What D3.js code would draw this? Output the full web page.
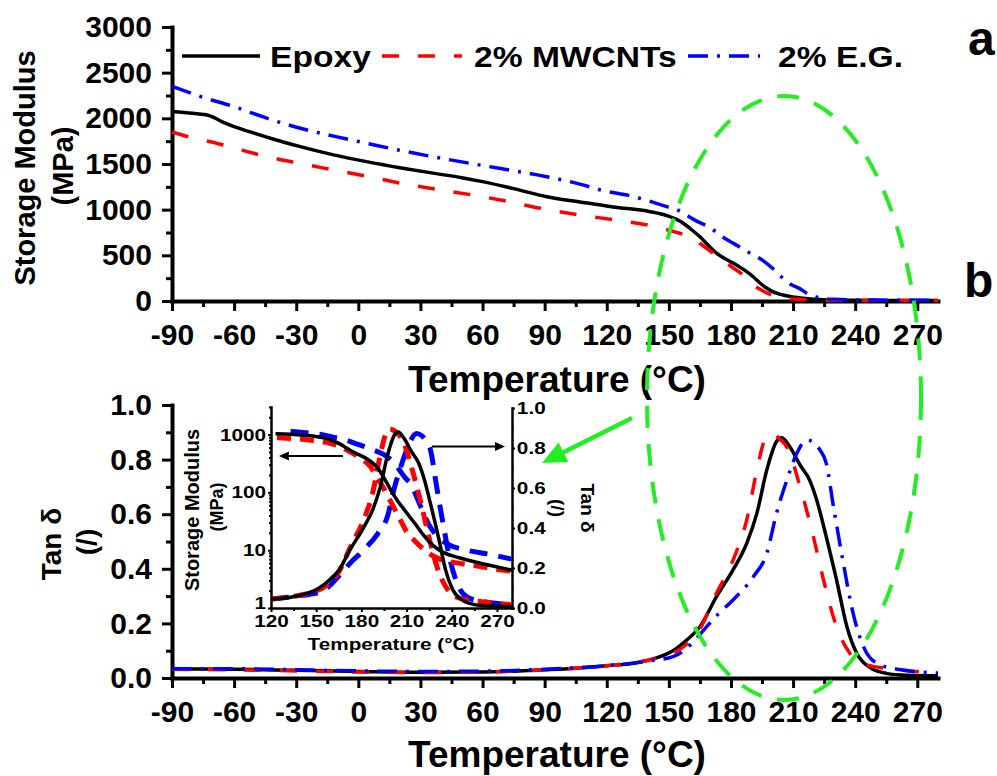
<!DOCTYPE html>
<html>
<head>
<meta charset="utf-8">
<script src="https://cdn.jsdelivr.net/npm/d3@7"></script>
<style>
body { margin: 0; background: #fff; }
svg { display: block; font-family: "Liberation Sans", Arial, sans-serif; }
</style>
</head>
<body>
<script>
const seriesNames = ["Epoxy", "2% MWCNTs", "2% E.G."];

// storage modulus (MPa) vs temperature (°C)
const modulusEpoxy = [[-90,2075],[-80,2055],[-72,2030],[-66,1965],[-60,1910],[-50,1835],[-40,1765],[-28,1690],[-12,1600],[4,1526],[20,1460],[36,1400],[50,1350],[60,1307],[75,1230],[91,1142],[107,1085],[123,1030],[141,978],[149,935],[157,852],[161,780],[165,703],[169,610],[173,525],[177,465],[181,416],[184,375],[187.6,321],[191,260],[194,197],[197,145],[200.4,100],[204,72],[208,52],[212,38],[216,28],[220,20],[225,14],[230,10.8],[235,9],[245,7.4],[255,6.3],[265,5.5],[280,4.5]];
const modulusMWCNT = [[-90,1850],[-80,1785],[-68,1725],[-56,1650],[-44,1580],[-28,1505],[-12,1435],[4,1365],[20,1292],[40,1215],[60,1142],[70,1100],[88,1015],[107,942],[124,887],[142,821],[150,775],[158.6,712],[165,630],[173,493],[180,380],[186,280],[190,185],[194,128],[198,82],[202,52],[206,33],[210,21],[216,14],[223,9.5],[232,7],[242,6.1],[252,5.6],[265,4.9],[280,4.3]];
const modulusEG = [[-90,2350],[-75,2230],[-60,2128],[-44,2000],[-28,1891],[-12,1805],[4,1727],[20,1650],[36,1580],[52,1515],[68,1453],[91,1361],[107,1280],[117,1216],[133,1143],[149,1033],[154,997],[163,880],[170,800],[176,700],[182,620],[188,540],[195,450],[200,360],[205,250],[209,180],[213,138],[217,80],[221,45],[225,27],[230,18],[238,12.5],[250,10],[265,8.5],[280,7]];

// tan delta vs temperature (°C)
const tanEpoxy = [[-90,0.033],[-60,0.032],[-30,0.028],[0,0.024],[30,0.021],[60,0.022],[75,0.025],[90,0.03],[105,0.036],[120,0.045],[133,0.054],[145.7,0.078],[152,0.1],[158.6,0.139],[165,0.188],[173,0.298],[181,0.396],[187.6,0.493],[192.5,0.603],[197.3,0.762],[202,0.866],[204.5,0.88],[208.5,0.846],[213.4,0.78],[218,0.725],[221.4,0.652],[226,0.518],[231,0.359],[236,0.188],[240.8,0.09],[247,0.039],[255,0.017],[265,0.01],[280,0.008]];
const tanMWCNT = [[-90,0.032],[-60,0.03],[-30,0.026],[0,0.022],[30,0.02],[60,0.022],[90,0.03],[120,0.045],[140,0.065],[150,0.085],[158,0.12],[165,0.18],[173,0.31],[181,0.432],[187.6,0.579],[192.5,0.762],[195.7,0.86],[198.5,0.895],[201,0.89],[204,0.872],[207,0.846],[213.4,0.7],[219.8,0.518],[224.7,0.359],[231,0.188],[237.5,0.09],[245.6,0.048],[262,0.03],[280,0.016]];
const tanEG = [[-90,0.034],[-60,0.034],[-30,0.03],[0,0.026],[30,0.024],[60,0.025],[90,0.032],[120,0.045],[140,0.062],[152,0.078],[158,0.105],[165,0.16],[173,0.228],[181,0.286],[190.8,0.371],[197.3,0.457],[202,0.603],[207,0.725],[211.8,0.823],[216.6,0.872],[220,0.862],[223,0.835],[226,0.787],[229.5,0.628],[234,0.432],[239,0.237],[244,0.115],[250.4,0.054],[262,0.03],[280,0.018]];

const tempTicks = [-90,-60,-30,0,30,60,90,120,150,180,210,240,270];
const tempMinorTicks = [-75,-45,-15,15,45,75,105,135,165,195,225,255];
const modulusTicks = [0,500,1000,1500,2000,2500,3000];
const modulusMinorTicks = [250,750,1250,1750,2250,2750];
const tanTicks = [0,0.2,0.4,0.6,0.8,1.0];
const tanMinorTicks = [0.1,0.3,0.5,0.7,0.9];
const insetTempTicks = [120,150,180,210,240,270];
const insetTempMinorTicks = [135,165,195,225,255];
const insetModTicks = [1,10,100,1000];
const insetModMinorTicks = [2,3,4,5,6,7,8,9,20,30,40,50,60,70,80,90,200,300,400,500,600,700,800,900,2000,3000];

const colors = ["#000000", "#ff0000", "#0000ff"];
const mainDash = [null, "17 19", "20 9 3 9"];
const insetDash = [null, "14 9", "18 11"];

const svg = d3.select("body").append("svg")
    .attr("width", 997)
    .attr("height", 776);

const x = d3.scaleLinear().domain([-90, 280]).range([172, 938]);
const yMod = d3.scaleLinear().domain([0, 3000]).range([301, 27]);
const yTan = d3.scaleLinear().domain([0, 1]).range([678, 405]);
const xIn = d3.scaleLinear().domain([120, 280]).range([271, 512]);
const yInMod = d3.scaleLog().domain([1, 3000]).range([608, 407]);
const yInTan = d3.scaleLinear().domain([0, 1]).range([608, 408]);

let addText = (x0, y0, str, size, o = {}) => svg.append("text")
    .attr("transform", `translate(${x0},${y0}) rotate(${o.rotate || 0}) scale(${o.sx || 1},1)`)
    .attr("text-anchor", o.anchor || "start")
    .attr("dy", o.dy || null)
    .attr("font-size", size)
    .attr("font-weight", "bold")
    .text(str);

let drawAxis = (axisFn, scale, pos, major, minor, o) => {
    let t = (axisFn === d3.axisBottom) ? `translate(0,${pos})` : `translate(${pos},0)`;
    svg.append("g").attr("transform", t)
        .call(axisFn(scale).tickValues(minor).tickSize(o.minor).tickFormat(""))
        .call(g => g.select(".domain").remove())
        .selectAll("line").attr("stroke-width", o.tick);
    let g = svg.append("g").attr("transform", t)
        .call(axisFn(scale).tickValues(major).tickSize(o.major).tickSizeOuter(0)
            .tickPadding(o.pad).tickFormat(o.format));
    g.attr("font-family", null).attr("font-size", o.font).attr("font-weight", "bold");
    g.select(".domain").attr("stroke-width", o.line).attr("stroke-linecap", "square");
    g.selectAll(".tick line").attr("stroke-width", o.tick);
    g.selectAll(".tick text").attr("fill", "#000");
    if (o.sx) g.selectAll(".tick text").attr("transform", `scale(${o.sx},1)`);
    return g;
};

let plot = (xs, ys, data, color, dash, width) => svg.append("path")
    .datum(data)
    .attr("d", d3.line().x(d => xs(d[0])).y(d => ys(d[1])).curve(d3.curveMonotoneX))
    .attr("fill", "none")
    .attr("stroke", color)
    .attr("stroke-width", width)
    .attr("stroke-dasharray", dash)
    .attr("stroke-linejoin", "round");

let arrow = (x1, y1, x2, y2, len, half, width, color) => {
    let dx = x2 - x1, dy = y2 - y1, L = Math.hypot(dx, dy);
    let ux = dx / L, uy = dy / L;
    let bx = x2 - ux * len, by = y2 - uy * len;
    svg.append("line")
        .attr("x1", x1).attr("y1", y1)
        .attr("x2", bx + ux * 2).attr("y2", by + uy * 2)
        .attr("stroke", color).attr("stroke-width", width);
    svg.append("path")
        .attr("d", `M${x2},${y2}L${bx - uy * half},${by + ux * half}L${bx + uy * half},${by - ux * half}Z`)
        .attr("fill", color);
};

const fmtInt = d => String(d);
const mainOpts = {major: 10, minor: 6, tick: 3, line: 4, font: 30};

// panel a
drawAxis(d3.axisBottom, x, 301, tempTicks, tempMinorTicks, {...mainOpts, pad: 13, format: fmtInt});
drawAxis(d3.axisLeft, yMod, 172, modulusTicks, modulusMinorTicks, {...mainOpts, pad: 10, format: fmtInt});
[modulusEpoxy, modulusMWCNT, modulusEG].forEach((s, i) => plot(x, yMod, s, colors[i], mainDash[i], 3.5));

// panel b
drawAxis(d3.axisBottom, x, 678, tempTicks, tempMinorTicks, {...mainOpts, pad: 13, format: fmtInt});
drawAxis(d3.axisLeft, yTan, 172, tanTicks, tanMinorTicks, {...mainOpts, pad: 10, format: d3.format(".1f")});
[tanEpoxy, tanMWCNT, tanEG].forEach((s, i) => plot(x, yTan, s, colors[i], mainDash[i], 3.5));

// titles
addText(557, 392, "Temperature (°C)", 37, {anchor: "middle"});
addText(557, 767, "Temperature (°C)", 37, {anchor: "middle"});
addText(25, 168, "Storage Modulus", 29, {anchor: "middle", rotate: -90, dy: "0.35em"});
addText(63, 166, "(MPa)", 29, {anchor: "middle", rotate: -90, dy: "0.35em"});
addText(51, 544, "Tan δ", 28, {anchor: "middle", rotate: -90, dy: "0.35em"});
addText(86, 542, "(/)", 28, {anchor: "middle", rotate: -90, dy: "0.35em"});
addText(968, 55, "a", 48);
addText(964, 297, "b", 48);

// legend
const legendLines = [[182, 260], [382, 462], [688, 760]];
const legendText = [270, 474, 778];
seriesNames.forEach((name, i) => {
    svg.append("line")
        .attr("x1", legendLines[i][0]).attr("x2", legendLines[i][1])
        .attr("y1", 56).attr("y2", 56)
        .attr("stroke", colors[i]).attr("stroke-width", 3.5)
        .attr("stroke-dasharray", mainDash[i]);
    addText(legendText[i], 67, name, 30, {sx: 1.12});
});

// inset
const insetOpts = {tick: 2, line: 2.5, font: 17, sx: 1.22};
drawAxis(d3.axisBottom, xIn, 608, insetTempTicks, insetTempMinorTicks, {...insetOpts, major: 4, minor: 3, pad: 3, format: fmtInt});
drawAxis(d3.axisLeft, yInMod, 271, insetModTicks, insetModMinorTicks, {...insetOpts, major: 3, minor: 2, pad: 1, format: fmtInt})
    .selectAll(".tick text").filter(d => d === 1).attr("dy", "0.05em");
drawAxis(d3.axisRight, yInTan, 512, tanTicks, tanMinorTicks, {...insetOpts, major: 3, minor: 2, pad: 1, format: d3.format(".1f")});

[2, 1, 0].forEach(i => {
    let mod = [modulusEpoxy, modulusMWCNT, modulusEG][i].filter(d => d[0] >= 120);
    let tan = [tanEpoxy, tanMWCNT, tanEG][i].filter(d => d[0] >= 120);
    plot(xIn, yInMod, mod, colors[i], insetDash[i], i ? 5 : 3.5);
    plot(xIn, yInTan, tan, colors[i], insetDash[i], i ? 5 : 3.5);
});

addText(391, 650, "Temperature (°C)", 17, {anchor: "middle", sx: 1.22});
addText(192, 510, "Storage Modulus", 20, {anchor: "middle", rotate: -90, dy: "0.35em"});
addText(217, 507, "(MPa)", 18, {anchor: "middle", rotate: -90, dy: "0.35em"});
addText(588, 508, "Tan δ", 19, {anchor: "middle", rotate: 90, dy: "0.35em"});
addText(558, 508, "(/)", 19, {anchor: "middle", rotate: 90, dy: "0.35em"});

arrow(343, 456, 279, 456, 10, 4.5, 2, "#000");
arrow(432, 446.5, 505, 446.5, 10, 4.5, 2, "#000");

// highlight
svg.append("ellipse")
    .attr("cx", 784).attr("cy", 398)
    .attr("rx", 137).attr("ry", 302)
    .attr("fill", "none")
    .attr("stroke", "#22ee22")
    .attr("stroke-width", 4)
    .attr("stroke-dasharray", "22 16");
arrow(632, 418, 542, 463, 24, 11, 4.5, "#22ee22");
</script>
</body>
</html>
